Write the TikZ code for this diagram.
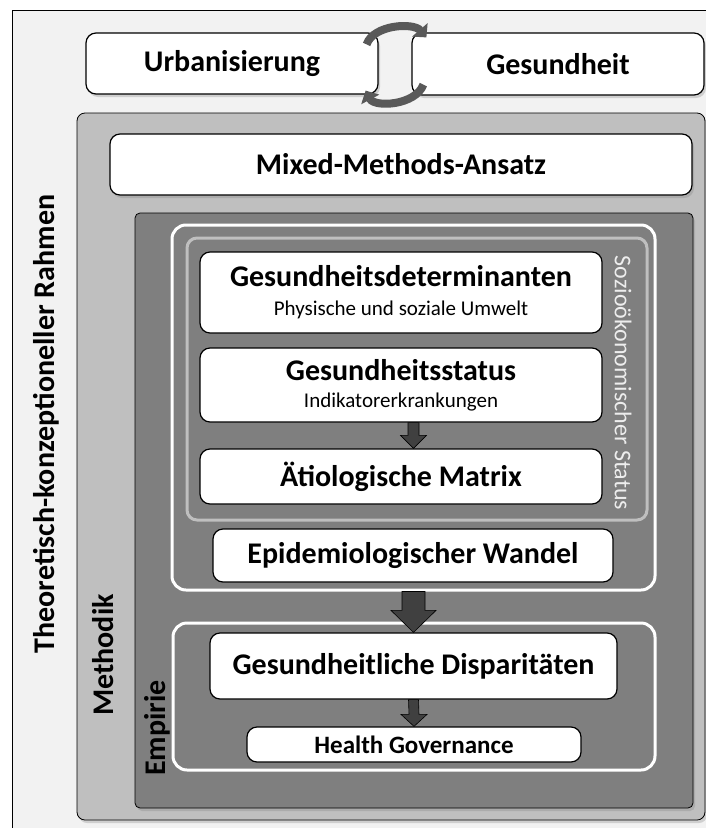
\documentclass[tikz,border=0pt]{standalone}
\usepackage{fontspec}
\setmainfont{Carlito}
\usetikzlibrary{positioning,calc,shadows,arrows.meta}
\definecolor{hgrund}{HTML}{F2F2F2}
\definecolor{hellgrau}{HTML}{BFBFBF}
\definecolor{mittelgrau}{HTML}{7F7F7F}
\definecolor{dunkelgrau}{HTML}{404040}
\definecolor{kreisgrau}{HTML}{595959}
\definecolor{soziograu}{HTML}{EDEDED}
\tikzset{
  schatten/.style={drop shadow={shadow xshift=2pt,shadow yshift=-3pt,opacity=0.3}},
  kasten/.style={draw=black,line width=1.2pt,fill=white,rounded corners=10pt,schatten,
    inner sep=0pt,font=\bfseries\fontsize{30}{34}\selectfont},
  rahmen/.style={draw=white,line width=3pt,rounded corners=14pt,inner sep=0pt},
  seitentext/.style={font=\bfseries\fontsize{30}{34}\selectfont},
  soziotext/.style={text=soziograu,font=\fontsize{24}{28}\selectfont},
  pfeil/.style={fill=dunkelgrau,draw=black,line width=0.6pt},
  zyklus/.style={draw=kreisgrau,line width=8pt,-{Triangle[width=20pt,length=10pt]}}
}
\newcommand{\unter}{\mdseries\fontsize{21}{25}\selectfont}
\newcommand{\blockpfeil}[5]{%
  \draw[pfeil] ($(#1)+(-#3,0)$) -- ($(#2)+(-#3,-#5)$) -- ($(#2)+(-#4,-#5)$) -- (#2)
    -- ($(#2)+(#4,-#5)$) -- ($(#2)+(#3,-#5)$) -- ($(#1)+(#3,0)$) -- cycle;}

\begin{document}
\begin{tikzpicture}[x=1pt,y=-1pt]
\useasboundingbox (0,0) rectangle (706,828);
\draw[fill=hgrund,line width=0.8pt] (12,10) rectangle (760,860);

\node[kasten,minimum width=292pt,minimum height=61pt] (urban) at (232,63.5) {Urbanisierung};
\node[kasten,minimum width=292pt,minimum height=62pt] (gesund) at (558,64) {Gesundheit};

\draw[fill=hellgrau,line width=0.8pt,rounded corners=8pt,schatten] (77,113) rectangle (705,820);
\node[kasten,minimum width=582pt,minimum height=61pt] (mixed) at (401,164.5) {Mixed-Methods-Ansatz};
\draw[fill=mittelgrau,line width=0.8pt,rounded corners=5pt,schatten] (135,213) rectangle (693,808);

\node[rahmen,minimum width=483pt,minimum height=365pt] (wandelrahmen) at (413.5,407.5) {};
\node[rahmen,draw=hellgrau,rounded corners=10pt,minimum width=460pt,minimum height=282pt] (soziorahmen) at (417,379) {};
\node[rahmen,minimum width=482pt,minimum height=147pt] (empirierahmen) at (414,696.5) {};

\node[kasten,minimum width=402pt,minimum height=81pt,align=center] (det) at (401,292.5)
  {Gesundheitsdeterminanten\\[-5pt]{\unter Physische und soziale Umwelt}};
\node[kasten,minimum width=402pt,minimum height=74pt,align=center] (status) at (401,385)
  {Gesundheitsstatus\\[-7pt]{\unter Indikatorerkrankungen}};
\node[kasten,minimum width=402pt,minimum height=55pt] (matrix) at (401,476.5) {Ätiologische Matrix};
\node[kasten,minimum width=400pt,minimum height=53pt] (wandel) at (413,555.5) {Epidemiologischer Wandel};
\node[kasten,minimum width=407pt,minimum height=66pt] (disp) at (413.5,666) {Gesundheitliche Disparitäten};
\node[kasten,minimum width=334pt,minimum height=35pt,font=\bfseries\fontsize{25}{29}\selectfont] (health) at (414,744.5) {Health Governance};

\node[seitentext,rotate=90] (rahmentext) at (46,424) {Theoretisch-konzeptioneller Rahmen};
\node[seitentext,rotate=90] (methodiktext) at (103,655) {Methodik};
\node[seitentext,rotate=90] (empirietext) at (157,728) {Empirie};
\node[soziotext,rotate=-90] (soziolabel) at (623,383) {Sozioökonomischer Status};

\blockpfeil{status.south -| disp.north}{matrix.north -| disp.north}{5.5}{13}{13}
\blockpfeil{wandelrahmen.south -| disp.north}{disp.north}{11.5}{22.5}{22}
\blockpfeil{disp.south}{health.north}{5}{13}{12}

\draw[zyklus] ($(urban.north east)+(-12,12)$) .. controls ($(urban.north east)+(-5,-8)$)
  and ($(gesund.north west)+(2,-10)$) .. ($(gesund.north west)+(15,5)$);
\draw[zyklus] ($(gesund.south west)+(12,-11)$) .. controls ($(gesund.south west)+(4,10)$)
  and ($(urban.south east)+(-4,13)$) .. ($(urban.south east)+(-13,-4)$);
\end{tikzpicture}
\end{document}
